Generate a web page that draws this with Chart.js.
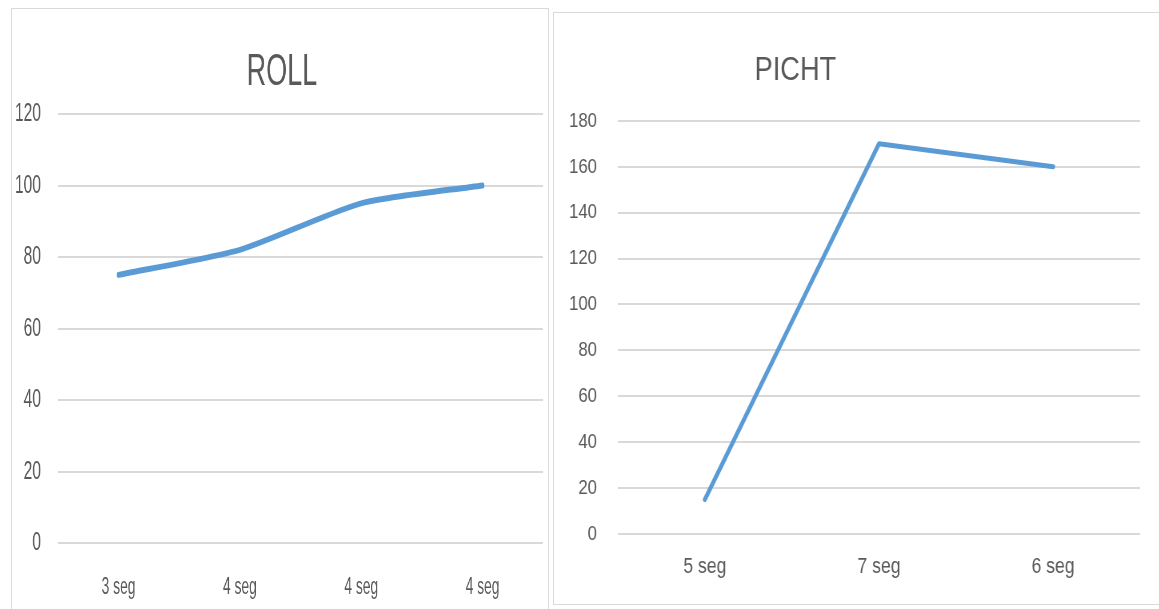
<!DOCTYPE html>
<html><head><meta charset="utf-8">
<script src="https://cdn.jsdelivr.net/npm/chart.js@4/dist/chart.umd.min.js"></script>
<style>
html,body{margin:0;padding:0;background:#fff;width:1159px;height:609px;overflow:hidden;position:relative;font-family:"Liberation Sans",Arial,sans-serif;}
.box{position:absolute;border:1px solid #d9d9d9;box-sizing:border-box;}
.wrap{position:absolute;transform-origin:0 0;}
</style></head>
<body>
<div class="box" style="left:11px;top:8px;width:538px;height:620px;"></div>
<div class="box" style="left:553px;top:12px;width:620px;height:593px;"></div>
<div class="wrap" id="w1" style="left:11px;top:8px;transform:scaleX(0.6);"><canvas id="c1"></canvas></div>
<div class="wrap" id="w2" style="left:553px;top:12px;transform:scaleX(0.8);"><canvas id="c2"></canvas></div>
<script>
const rollLabels = ['3 seg', '4 seg', '4 seg', '4 seg'];
const rollValues = [75, 82, 95, 100];
const rollTicks = [0, 20, 40, 60, 80, 100, 120];

const pichtLabels = ['5 seg', '7 seg', '6 seg'];
const pichtValues = [15, 170, 160];
const pichtTicks = [0, 20, 40, 60, 80, 100, 120, 140, 160, 180];

const FONT = '"Liberation Sans", Arial, sans-serif';
const TXT = '#595959';
const GRID = '#d9d9d9';
const BLUE = '#5b9bd5';

const titleShift = {
  id: 'titleShift',
  afterLayout(chart, args, opts) {
    const t = chart.titleBlock;
    if (t && opts.dx) { t.left += opts.dx; t.right += opts.dx; }
  }
};

function makeChart(id, cfg) {
  const cv = document.getElementById(id);
  cv.width = cfg.w; cv.height = cfg.h;
  cv.style.width = cfg.w + 'px'; cv.style.height = cfg.h + 'px';
  const ticks = cfg.ticks;
  return new Chart(cv, {
    type: 'line',
    data: {
      labels: cfg.labels,
      datasets: [{
        data: cfg.values,
        borderColor: BLUE,
        backgroundColor: BLUE,
        borderWidth: cfg.lw,
        borderCapStyle: 'round',
        borderJoinStyle: 'round',
        pointRadius: 0,
        pointHoverRadius: 0,
        tension: cfg.tension,
        fill: false
      }]
    },
    plugins: [titleShift],
    options: {
      responsive: false,
      animation: false,
      devicePixelRatio: 1,
      layout: { padding: { left: 0, right: cfg.padRight, top: 0, bottom: 0 } },
      plugins: {
        legend: { display: false },
        tooltip: { enabled: false },
        titleShift: { dx: cfg.titleDx },
        title: {
          display: true,
          text: cfg.title,
          color: TXT,
          font: { family: FONT, size: cfg.titleSize, weight: 'normal', lineHeight: 1.2 },
          padding: { top: cfg.titleTop, bottom: cfg.titleBottom },
          align: 'center'
        }
      },
      scales: {
        x: {
          offset: true,
          grid: { display: false, drawTicks: false },
          border: { display: false },
          ticks: { color: TXT, font: { family: FONT, size: cfg.xFont }, padding: cfg.xPad, maxRotation: 0, autoSkip: false },
          afterFit: s => { s.height = cfg.xH; }
        },
        y: {
          min: ticks[0],
          max: ticks[ticks.length - 1],
          afterBuildTicks: s => { s.ticks = ticks.map(v => ({ value: v })); },
          grid: { color: GRID, lineWidth: 2, drawTicks: false },
          border: { display: false },
          ticks: { color: TXT, font: { family: FONT, size: cfg.yFont }, padding: cfg.yPad },
          afterFit: s => { s.width = cfg.yW; }
        }
      }
    }
  });
}

makeChart('c1', {
  w: 895, h: 601, labels: rollLabels, values: rollValues, ticks: rollTicks,
  title: 'ROLL', titleSize: 45, titleTop: 38, titleBottom: 14, titleDx: 8,
  yW: 78, yPad: 28, yFont: 26, xH: 66, xPad: 31, xFont: 23, padRight: 8,
  lw: 6, tension: 0.22
});

makeChart('c2', {
  w: 757, h: 592, labels: pichtLabels, values: pichtValues, ticks: pichtTicks,
  title: 'PICHT', titleSize: 34, titleTop: 38, titleBottom: 30, titleDx: -64,
  yW: 81, yPad: 26, yFont: 21, xH: 70, xPad: 20, xFont: 22, padRight: 23,
  lw: 5, tension: 0
});
</script>
</body></html>
